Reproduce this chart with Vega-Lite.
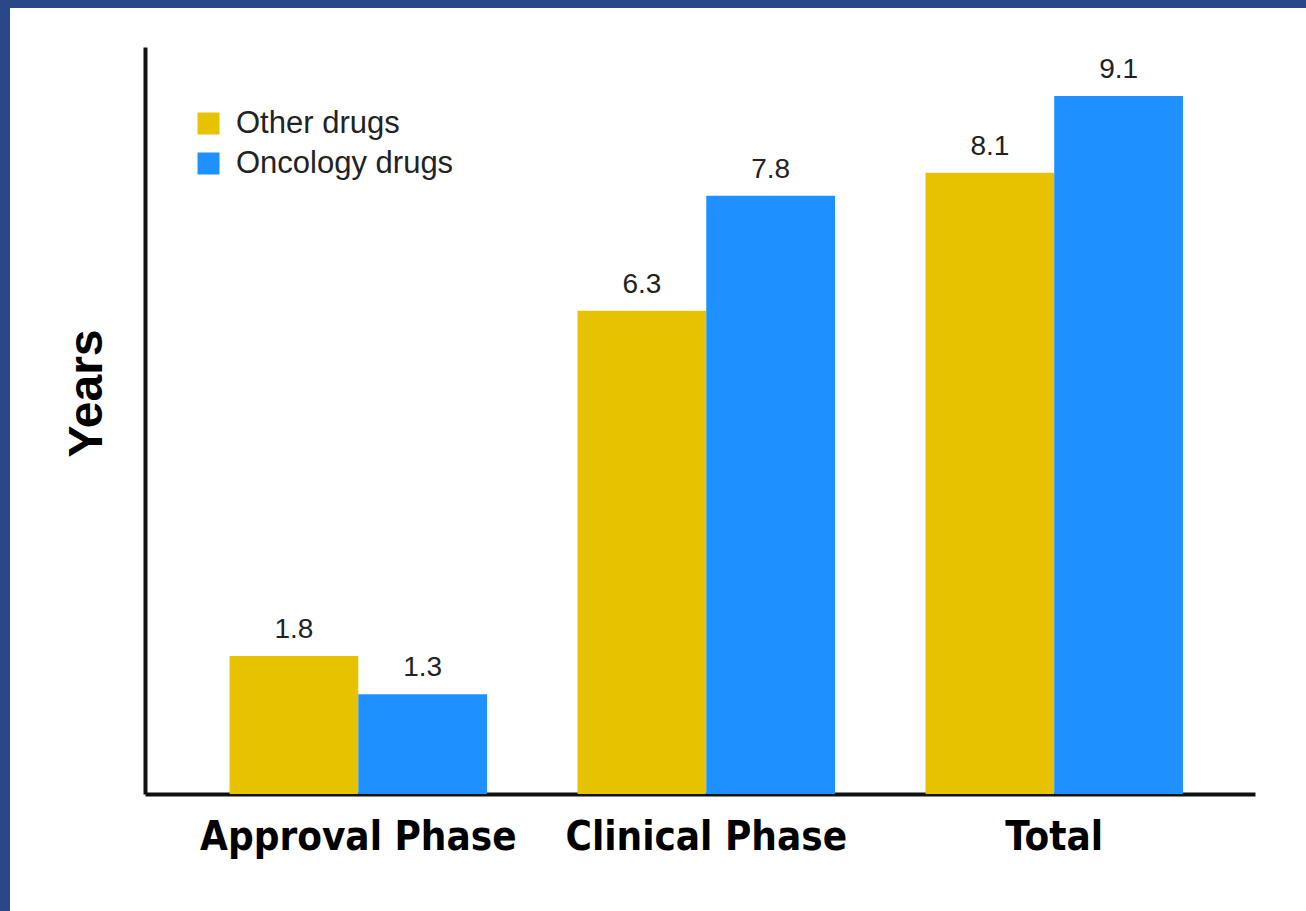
{
  "$schema": "https://vega.github.io/schema/vega-lite/v6.json",
  "width": 1224,
  "height": 830,
  "autosize": {"type": "none"},
  "padding": {"left": 48, "top": 46, "right": 34, "bottom": 35},
  "background": "#2B4788",
  "config": {
    "view": {"fill": "white", "stroke": "white", "strokeWidth": 76}
  },
  "data": {
    "values": [
      {"phase": "Approval Phase", "drug": "Other drugs", "years": 1.8},
      {"phase": "Approval Phase", "drug": "Oncology drugs", "years": 1.3},
      {"phase": "Clinical Phase", "drug": "Other drugs", "years": 6.3},
      {"phase": "Clinical Phase", "drug": "Oncology drugs", "years": 7.8},
      {"phase": "Total", "drug": "Other drugs", "years": 8.1},
      {"phase": "Total", "drug": "Oncology drugs", "years": 9.1}
    ]
  },
  "encoding": {
    "x": {
      "field": "phase",
      "type": "nominal",
      "sort": ["Approval Phase", "Clinical Phase", "Total"],
      "scale": {"range": [97, 1207], "paddingInner": 0.26, "paddingOuter": 0.225, "align": 0.54},
      "axis": {
        "title": null,
        "orient": "bottom",
        "offset": -82,
        "ticks": false,
        "grid": false,
        "labelAngle": 0,
        "labelPadding": 23,
        "labelLimit": 1000,
        "labelFont": "'DejaVu Sans Condensed', 'Liberation Sans Narrow', sans-serif",
        "labelFontSize": 40,
        "labelFontWeight": "bold",
        "labelColor": "#000000",
        "domainColor": "#111111",
        "domainWidth": 4
      }
    },
    "xOffset": {
      "field": "drug",
      "type": "nominal",
      "sort": ["Other drugs", "Oncology drugs"],
      "scale": {"paddingInner": 0, "paddingOuter": 0}
    },
    "y": {
      "field": "years",
      "type": "quantitative",
      "scale": {"domain": [0, 9.74], "range": [748, 1], "nice": false, "zero": true},
      "axis": {
        "title": "Years",
        "orient": "left",
        "offset": -97,
        "labels": false,
        "ticks": false,
        "grid": false,
        "domainColor": "#111111",
        "domainWidth": 4,
        "titleFont": "'Liberation Sans', Arial, sans-serif",
        "titleFontSize": 48,
        "titleFontWeight": "bold",
        "titleColor": "#000000",
        "titlePadding": 34,
        "titleY": 347
      }
    }
  },
  "layer": [
    {
      "mark": {"type": "bar"},
      "encoding": {
        "color": {
          "field": "drug",
          "type": "nominal",
          "sort": ["Other drugs", "Oncology drugs"],
          "scale": {"domain": ["Other drugs", "Oncology drugs"], "range": ["#E6C200", "#1E90FF"]},
          "legend": {
            "orient": "none",
            "legendX": 145,
            "legendY": 62,
            "title": null,
            "padding": 0,
            "symbolType": "square",
            "symbolSize": 484,
            "symbolStrokeWidth": 0,
            "symbolOpacity": 1,
            "labelFont": "'Liberation Sans', Arial, sans-serif",
            "labelFontSize": 31,
            "labelLimit": 1000,
            "labelColor": "#222222",
            "labelOffset": 12,
            "rowPadding": 8
          }
        }
      }
    },
    {
      "mark": {
        "type": "text",
        "dy": -18,
        "baseline": "alphabetic",
        "align": "center",
        "fontSize": 28,
        "font": "'Liberation Sans', Arial, sans-serif",
        "color": "#222222"
      },
      "encoding": {
        "text": {"field": "years", "type": "quantitative", "format": ".1f"}
      }
    }
  ]
}
